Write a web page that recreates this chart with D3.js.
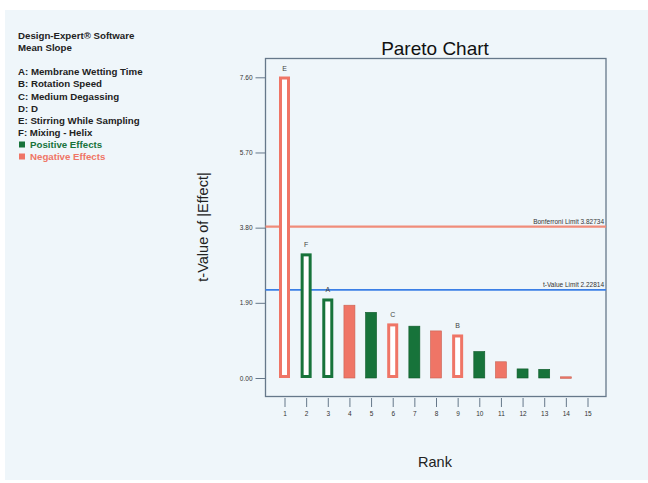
<!DOCTYPE html>
<html>
<head>
<meta charset="utf-8">
<script src="https://cdn.jsdelivr.net/npm/d3@7"></script>
<style>
  body { margin: 0; background: #fff; }
  svg text { font-family: "Liberation Sans", Arial, sans-serif; }
</style>
</head>
<body>
<div id="chart"></div>
<script>
// data
var ranks = [1, 2, 3, 4, 5, 6, 7, 8, 9, 10, 11, 12, 13, 14, 15];
var tValues = [7.62, 3.15, 2.01, 1.84, 1.66, 1.38, 1.31, 1.19, 1.10, 0.67, 0.41, 0.23, 0.22, 0.03, null];
var signs = ["neg", "pos", "pos", "neg", "pos", "neg", "pos", "neg", "neg", "pos", "neg", "pos", "pos", "neg", null];
var termLabels = ["E", "F", "A", "", "", "C", "", "", "B", "", "", "", "", "", ""];
var yTicks = [0.00, 1.90, 3.80, 5.70, 7.60];
var bonferroni = 3.82734;
var tLimit = 2.22814;
var legendLines = [
  "Design-Expert\u00ae Software",
  "Mean Slope",
  "",
  "A: Membrane Wetting Time",
  "B: Rotation Speed",
  "C: Medium Degassing",
  "D: D",
  "E: Stirring While Sampling",
  "F: Mixing - Helix"
];

var svgWidth = 648, svgHeight = 483;
var green = "#17733a", orange = "#ef7566";

var svg = d3.select("#chart").append("svg")
  .attr("width", svgWidth)
  .attr("height", svgHeight);

// light panel
svg.append("rect")
  .attr("x", 5).attr("y", 10)
  .attr("width", 643).attr("height", 470)
  .attr("fill", "#eff6fa");

// plot frame
var frame = {left: 265.5, top: 58.5, right: 606, bottom: 396.5};

var x = d3.scaleLinear().domain([1, 15]).range([284.5, 587.5]);
var y = d3.scaleLinear().domain([0, 7.6]).range([378, 77.3]);

svg.append("rect")
  .attr("x", frame.left).attr("y", frame.top)
  .attr("width", frame.right - frame.left)
  .attr("height", frame.bottom - frame.top)
  .attr("fill", "none")
  .attr("stroke", "#66788a")
  .attr("stroke-width", 1.3);

// y axis
var yAxis = d3.axisLeft(y).tickValues(yTicks).tickFormat(d3.format(".2f")).tickSize(10).tickPadding(3);
var gy = svg.append("g")
  .attr("transform", `translate(${frame.left}, 0)`)
  .call(yAxis);
gy.select(".domain").remove();
gy.selectAll("line").attr("stroke", "#66788a");
gy.selectAll("text").attr("font-size", 6.5).attr("fill", "#333");

// x axis
var xAxis = d3.axisBottom(x).tickValues(ranks).tickFormat(d3.format("d")).tickSize(9).tickPadding(4);
var gx = svg.append("g")
  .attr("transform", `translate(0, ${frame.bottom + 1.5})`)
  .call(xAxis);
gx.select(".domain").remove();
gx.selectAll("line").attr("stroke", "#66788a");
gx.selectAll("text").attr("font-size", 6.5).attr("fill", "#333");

// limit lines
svg.append("line")
  .attr("x1", frame.left).attr("x2", frame.right)
  .attr("y1", y(bonferroni)).attr("y2", y(bonferroni))
  .attr("stroke", "#f08c7a").attr("stroke-width", 2.2);
svg.append("text")
  .attr("x", frame.right - 2).attr("y", y(bonferroni) - 3)
  .attr("text-anchor", "end").attr("font-size", 6.5).attr("fill", "#333")
  .text("Bonferroni Limit " + bonferroni);

svg.append("line")
  .attr("x1", frame.left).attr("x2", frame.right)
  .attr("y1", y(tLimit)).attr("y2", y(tLimit))
  .attr("stroke", "#3b7fe6").attr("stroke-width", 1.6);
svg.append("text")
  .attr("x", frame.right - 2).attr("y", y(tLimit) - 3)
  .attr("text-anchor", "end").attr("font-size", 6.5).attr("fill", "#333")
  .text("t-Value Limit " + tLimit);

// bars
var barData = ranks.map(function(r, i) {
  return {rank: r, value: tValues[i], sign: signs[i], label: termLabels[i]};
}).filter(d => d.value !== null);

var barW = 11;
var bars = svg.append("g").selectAll("g")
  .data(barData)
  .enter()
  .append("g");

bars.append("rect")
  .attr("x", d => d.label ? x(d.rank) - barW / 2 + 1.5 : x(d.rank) - barW / 2)
  .attr("y", d => d.label ? y(d.value) + 1.5 : y(d.value))
  .attr("width", d => d.label ? barW - 3 : barW)
  .attr("height", d => d.label ? Math.max(0, y(0) - y(d.value) - 3) : Math.max(1.5, y(0) - y(d.value)))
  .attr("fill", d => d.label ? "#fff" : (d.sign === "pos" ? green : orange))
  .attr("stroke", d => d.label ? (d.sign === "pos" ? green : orange) : (d.sign === "pos" ? "#0f5a2a" : "#c86050"))
  .attr("stroke-width", d => d.label ? 3 : 0.6);

bars.append("text")
  .attr("x", d => x(d.rank))
  .attr("y", d => y(d.value) - 6)
  .attr("text-anchor", "middle")
  .attr("font-size", 7)
  .attr("fill", "#444")
  .text(d => d.label);

// titles
svg.append("text")
  .attr("x", 435).attr("y", 55)
  .attr("text-anchor", "middle")
  .attr("font-size", 19)
  .attr("fill", "#111")
  .text("Pareto Chart");

svg.append("text")
  .attr("transform", "translate(208, 227) rotate(-90)")
  .attr("text-anchor", "middle")
  .attr("font-size", 14.5)
  .attr("fill", "#222")
  .text("t-Value of |Effect|");

svg.append("text")
  .attr("x", 435).attr("y", 467)
  .attr("text-anchor", "middle")
  .attr("font-size", 14.5)
  .attr("fill", "#222")
  .text("Rank");

// left legend text
var legend = svg.append("g").attr("transform", "translate(18, 0)");
legend.selectAll("text.info")
  .data(legendLines)
  .enter()
  .append("text")
  .attr("class", "info")
  .attr("x", 0)
  .attr("y", (d, i) => 39 + i * 12.1)
  .attr("font-size", 9.7)
  .attr("font-weight", "bold")
  .attr("fill", "#222")
  .text(d => d);

var keys = [{name: "Positive Effects", color: green}, {name: "Negative Effects", color: orange}];
keys.forEach(function(k, i) {
  var ky = 148 + i * 12;
  legend.append("rect")
    .attr("x", 1).attr("y", ky - 6.5)
    .attr("width", 6).attr("height", 6)
    .attr("fill", k.color);
  legend.append("text")
    .attr("x", 12).attr("y", ky)
    .attr("font-size", 9.7)
    .attr("font-weight", "bold")
    .attr("fill", k.color)
    .text(k.name);
});
</script>
</body>
</html>
